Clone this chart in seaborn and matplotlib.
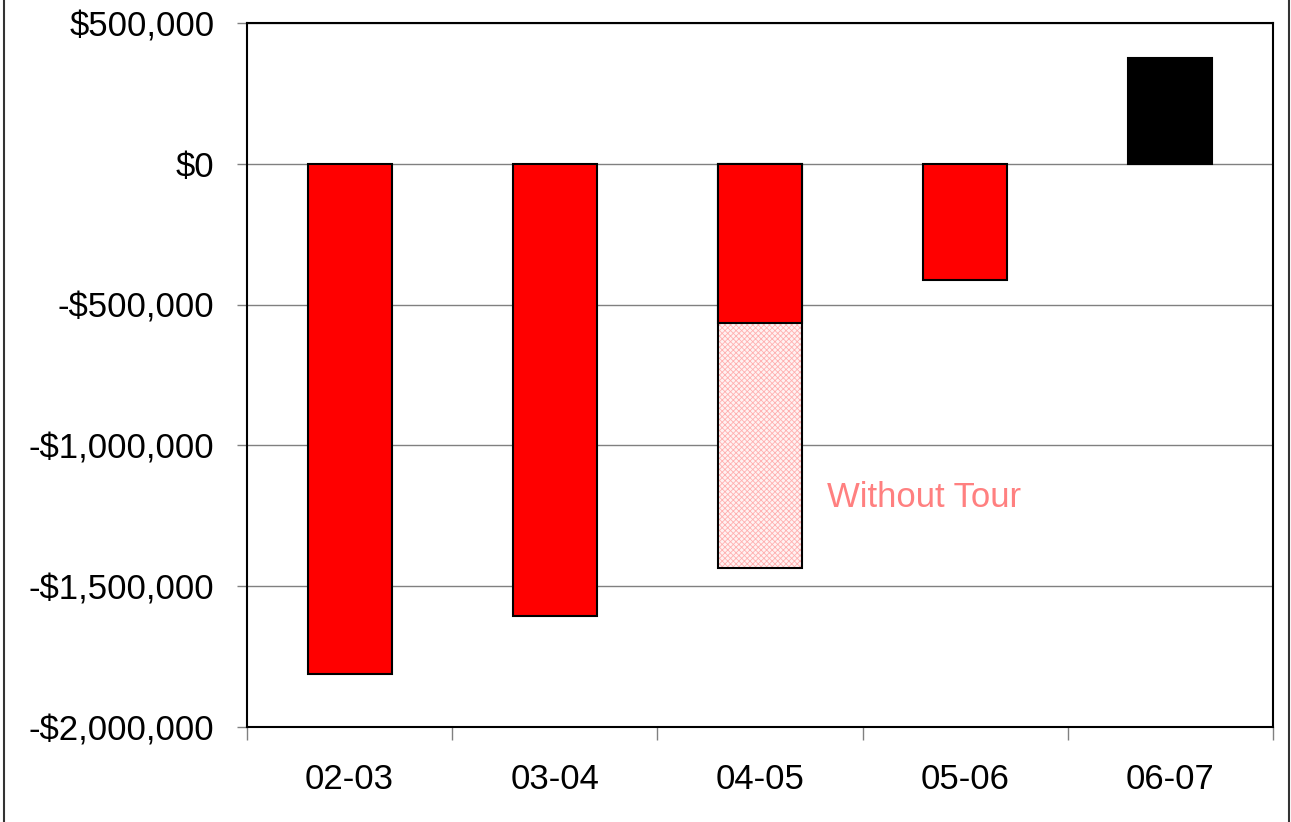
import matplotlib
matplotlib.use("Agg")
import matplotlib.pyplot as plt
from matplotlib.ticker import FuncFormatter, FixedLocator
from matplotlib.lines import Line2D
import seaborn as sns
import pandas as pd

# Data
categories = ["02-03", "03-04", "04-05", "05-06", "06-07"]
net_values = [-1812000, -1606000, -567000, -411000, 376000]
without_tour_category = ["04-05"]
without_tour_values = [-1436000]
annotation_text = "Without Tour"

sns.set_theme(style="white")
plt.rcParams['font.family'] = ['Liberation Sans', 'DejaVu Sans']
plt.rcParams['hatch.linewidth'] = 0.6

fig = plt.figure(figsize=(12.91, 8.22), dpi=100)
ax = fig.add_axes([247/1291, 1-727/822, (1273-247)/1291, (727-23)/822])

# Without-tour bar (drawn first, underneath): hatched fill, then black outline
wt = pd.DataFrame({"cat": without_tour_category, "val": without_tour_values})
n0 = len(ax.patches)
sns.barplot(data=wt, x="cat", y="val", order=categories, ax=ax,
            color="#fff2f2", width=0.41, edgecolor="#ffb0b0", linewidth=0,
            hatch="xxxxxx", saturation=1)
for p in ax.patches[n0:]:
    p.set_zorder(2)
    p.set_edgecolor("#ffb0b0")
    p.set_linewidth(0)
n1 = len(ax.patches)
sns.barplot(data=wt, x="cat", y="val", order=categories, ax=ax,
            color="black", width=0.41, fill=False, linewidth=1.5, saturation=1)
for p in ax.patches[n1:]:
    p.set_zorder(2.5)
    p.set_fill(False)
    p.set_edgecolor("black")
    p.set_linewidth(1.5)
n2 = len(ax.patches)

df = pd.DataFrame({"cat": categories, "val": net_values})
pal = {c: ("#000000" if v > 0 else "#ff0000") for c, v in zip(categories, net_values)}
sns.barplot(data=df, x="cat", y="val", hue="cat", order=categories, palette=pal,
            ax=ax, width=0.41, edgecolor="black", linewidth=1.5, saturation=1,
            legend=False)
for p in ax.patches[n2:]:
    p.set_zorder(3)

ax.set_ylim(-2000000, 500000)
ax.set_xlim(-0.5, 4.5)
ax.yaxis.set_major_locator(FixedLocator([-2000000, -1500000, -1000000, -500000, 0, 500000]))

def fmt(v, pos):
    v = int(round(v))
    if v < 0:
        return "-${:,}".format(-v)
    return "${:,}".format(v)

ax.yaxis.set_major_formatter(FuncFormatter(fmt))
ax.yaxis.grid(True, color="#808080", linewidth=1.0)
ax.set_axisbelow(True)

ax.set_xlabel("")
ax.set_ylabel("")

ax.tick_params(axis="y", which="major", direction="out", length=7.5, width=1,
               color="#808080", labelsize=25, pad=16, left=True, labelcolor="black")
ax.tick_params(axis="x", which="major", length=0, labelsize=25, pad=26, labelcolor="black")
ax.set_xticks([x - 0.5 for x in range(6)], minor=True)
ax.tick_params(axis="x", which="minor", direction="out", length=9, width=1,
               color="#808080", bottom=True)

for s in ax.spines.values():
    s.set_visible(True)
    s.set_color("black")
    s.set_linewidth(1.5)

ax.text(2.326, -1185000, annotation_text, color="#ff8080", fontsize=25,
        ha="left", va="center")

# Outer figure border lines
fig.add_artist(Line2D([4/1291, 4/1291], [0, 1], color="#333333", linewidth=1.5,
                      transform=fig.transFigure))
fig.add_artist(Line2D([1289/1291, 1289/1291], [0, 1], color="#333333", linewidth=1.5,
                      transform=fig.transFigure))

fig.savefig("out.png", dpi=100, facecolor="white")
